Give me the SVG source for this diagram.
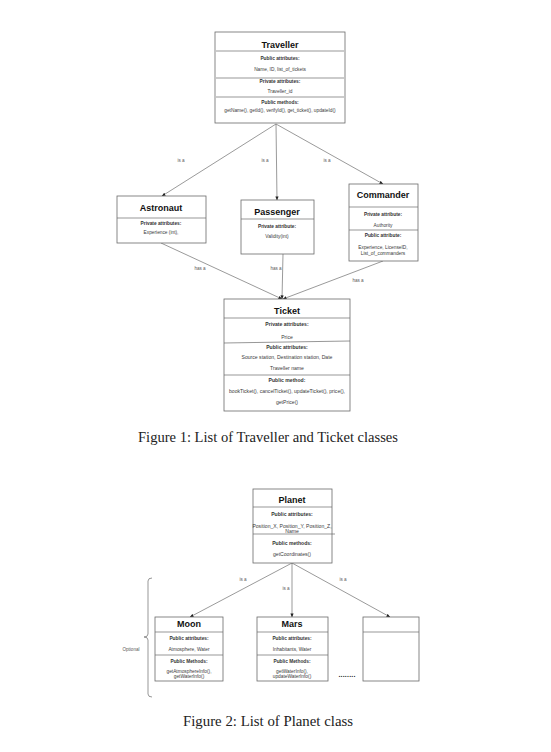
<svg xmlns="http://www.w3.org/2000/svg" width="551" height="752" viewBox="0 0 551 752">
  <style>
    .box { fill: #ffffff; stroke: #6a6a6a; stroke-width: 0.8; }
    .sep { stroke: #6a6a6a; stroke-width: 0.7; fill: none; }
    .title { font-family: "Liberation Sans", Arial, sans-serif; font-weight: bold; font-size: 9px; fill: #111; text-anchor: middle; }
    .hd { font-family: "Liberation Sans", Arial, sans-serif; font-weight: bold; font-size: 4.8px; fill: #333; text-anchor: middle; }
    .tx { font-family: "Liberation Sans", Arial, sans-serif; font-size: 4.8px; fill: #3a3a3a; text-anchor: middle; }
    .big .hd, .big .tx { font-size: 5.1px; }
    .lbl { font-family: "Liberation Sans", Arial, sans-serif; font-size: 4.6px; fill: #5a5a5a; text-anchor: middle; }
    .edge { stroke: #6e6e6e; stroke-width: 0.7; fill: none; marker-end: url(#arr); }
    .cap { font-family: "Liberation Serif", "DejaVu Serif", serif; font-size: 13.6px; fill: #222; text-anchor: middle; }
  </style>
  <defs>
    <marker id="arr" viewBox="0 0 10 10" refX="9" refY="5" markerWidth="4" markerHeight="4" orient="auto" markerUnits="userSpaceOnUse">
      <path d="M0,1 L10,5 L0,9 z" fill="#222"/>
    </marker>
  </defs>

  <!-- Figure 1: traveller / ticket classes -->
  <g id="connectors-fig1">
    <line class="edge" x1="276" y1="124" x2="162" y2="196"/>
    <line class="edge" x1="276" y1="124" x2="277" y2="200"/>
    <line class="edge" x1="276" y1="124" x2="383" y2="184"/>
    <text class="lbl" x="181" y="162">is a</text>
    <text class="lbl" x="265" y="162">is a</text>
    <text class="lbl" x="327" y="162">is a</text>
    <line class="edge" x1="161" y1="243" x2="282" y2="299"/>
    <line class="edge" x1="283" y1="254" x2="282" y2="299"/>
    <line class="edge" x1="383" y1="261" x2="283" y2="299"/>
    <text class="lbl" x="200" y="270">has a</text>
    <text class="lbl" x="276" y="270">has a</text>
    <text class="lbl" x="358" y="282">has a</text>
  </g>

  <g id="traveller">
    <rect class="box" x="215" y="32" width="130" height="91"/>
    <text class="title" x="280" y="48">Traveller</text>
    <line class="sep" x1="216" y1="51" x2="344" y2="51"/>
    <text class="hd" x="280" y="60">Public attributes:</text>
    <text class="tx" x="280" y="71">Name, ID, list_of_tickets</text>
    <line class="sep" x1="216" y1="78" x2="344" y2="78"/>
    <text class="hd" x="280" y="83">Private attributes:</text>
    <text class="tx" x="280" y="93">Traveller_id</text>
    <line class="sep" x1="216" y1="97" x2="344" y2="97"/>
    <text class="hd" x="280" y="104">Public methods:</text>
    <text class="tx" x="280" y="112" font-size="4.6">getName(), getId(), verifyId(), get_ticket(), updateId()</text>
  </g>

  <g id="astronaut">
    <rect class="box" x="117" y="196" width="89" height="47"/>
    <text class="title" x="161" y="211">Astronaut</text>
    <line class="sep" x1="117" y1="218" x2="206" y2="218"/>
    <text class="hd" x="161" y="225">Private attributes:</text>
    <text class="tx" x="161" y="234">Experience (int),</text>
  </g>

  <g id="passenger">
    <rect class="box" x="241" y="200" width="73" height="54"/>
    <text class="title" x="277" y="215">Passenger</text>
    <line class="sep" x1="241" y1="219" x2="314" y2="219"/>
    <text class="hd" x="277" y="228">Private attribute:</text>
    <text class="tx" x="277" y="238">Validity(int)</text>
  </g>

  <g id="commander">
    <rect class="box" x="349" y="184" width="69" height="77"/>
    <text class="title" x="383" y="198">Commander</text>
    <line class="sep" x1="349" y1="207" x2="418" y2="207"/>
    <text class="hd" x="383" y="216">Private attribute:</text>
    <text class="tx" x="383" y="227">Authority</text>
    <line class="sep" x1="349" y1="230" x2="418" y2="230"/>
    <text class="hd" x="383" y="237">Public attribute:</text>
    <text class="tx" x="383" y="249">Experience, LicenseID,</text>
    <text class="tx" x="383" y="255">List_of_commanders</text>
  </g>

  <g id="ticket" class="big">
    <rect class="box" x="224" y="299" width="126" height="112"/>
    <text class="title" x="287" y="314">Ticket</text>
    <line class="sep" x1="224" y1="318" x2="350" y2="318"/>
    <text class="hd" x="287" y="326">Private attributes:</text>
    <text class="tx" x="287" y="339">Price</text>
    <line class="sep" x1="224" y1="343" x2="350" y2="341"/>
    <text class="hd" x="287" y="349">Public attributes:</text>
    <text class="tx" x="287" y="359">Source station, Destination station, Date</text>
    <text class="tx" x="287" y="370">Traveller name</text>
    <line class="sep" x1="224" y1="375" x2="350" y2="375"/>
    <text class="hd" x="287" y="382">Public method:</text>
    <text class="tx" x="287" y="393">bookTicket(), cancelTicket(), updateTicket(), price(),</text>
    <text class="tx" x="287" y="404">getPrice()</text>
  </g>

  <text class="cap" x="268" y="442" textLength="260" lengthAdjust="spacingAndGlyphs">Figure 1: List of Traveller and Ticket classes</text>

  <!-- Figure 2: planet classes -->
  <g id="connectors-fig2">
    <line class="edge" x1="292" y1="563" x2="190" y2="617"/>
    <line class="edge" x1="292" y1="563" x2="292" y2="617"/>
    <line class="edge" x1="292" y1="563" x2="390" y2="617"/>
    <text class="lbl" x="243" y="581">is a</text>
    <text class="lbl" x="286" y="590">is a</text>
    <text class="lbl" x="343" y="581">is a</text>
  </g>

  <g id="planet" class="big">
    <rect class="box" x="253" y="489" width="79" height="74"/>
    <text class="title" x="292" y="503">Planet</text>
    <line class="sep" x1="253" y1="507" x2="332" y2="507"/>
    <text class="hd" x="292" y="516">Public attributes:</text>
    <text class="tx" x="292" y="528">Position_X, Position_Y, Position_Z,</text>
    <text class="tx" x="292" y="533">Name</text>
    <line class="sep" x1="253" y1="534" x2="335" y2="534"/>
    <text class="hd" x="292" y="545">Public methods:</text>
    <text class="tx" x="292" y="556">getCoordinates()</text>
  </g>

  <g id="moon">
    <rect class="box" x="155" y="617" width="68" height="64"/>
    <text class="title" x="189" y="627">Moon</text>
    <line class="sep" x1="155" y1="632" x2="223" y2="632"/>
    <text class="hd" x="189" y="640">Public attributes:</text>
    <text class="tx" x="189" y="651">Atmosphere, Water</text>
    <line class="sep" x1="155" y1="655" x2="223" y2="655"/>
    <text class="hd" x="189" y="663">Public Methods:</text>
    <text class="tx" x="189" y="673">getAtmosphereInfo(),</text>
    <text class="tx" x="189" y="678">getWaterInfo()</text>
  </g>

  <g id="mars">
    <rect class="box" x="257" y="617" width="71" height="64"/>
    <text class="title" x="292" y="627">Mars</text>
    <line class="sep" x1="257" y1="632" x2="328" y2="632"/>
    <text class="hd" x="292" y="640">Public attributes:</text>
    <text class="tx" x="292" y="651">Inhabitants, Water</text>
    <line class="sep" x1="257" y1="655" x2="328" y2="655"/>
    <text class="hd" x="292" y="663">Public Methods:</text>
    <text class="tx" x="292" y="673">getWaterInfo(),</text>
    <text class="tx" x="292" y="678">updateWaterInfo()</text>
  </g>

  <g id="other-planet">
    <rect class="box" x="363" y="617" width="56" height="64"/>
    <line class="sep" x1="363" y1="632" x2="419" y2="632"/>
  </g>

  <text x="347" y="677" font-family="Liberation Sans, Arial, sans-serif" font-size="7" fill="#222" text-anchor="middle" font-weight="bold" letter-spacing="0.2">........</text>

  <g id="optional-brace">
    <path class="sep" d="M152,578 Q148,578 148,581 L148,634 Q148,637 144,637 Q148,637 148,640 L148,694 Q148,697 152,697"/>
    <text class="lbl" x="131" y="651" fill="#444">Optional</text>
  </g>

  <text class="cap" x="268" y="726" textLength="170" lengthAdjust="spacingAndGlyphs">Figure 2: List of Planet class</text>
</svg>
